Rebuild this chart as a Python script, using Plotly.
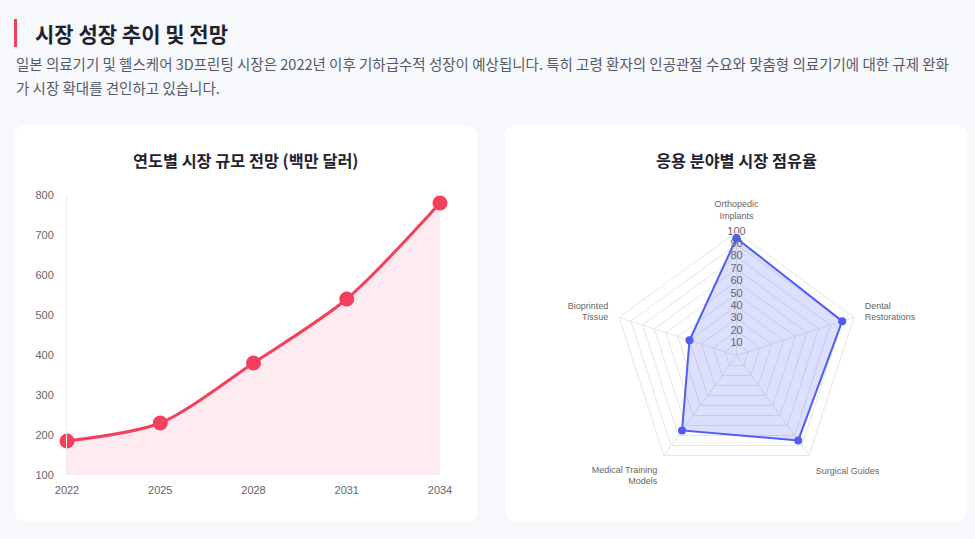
import plotly.graph_objects as go

# ---- data ----
years = [2022, 2025, 2028, 2031, 2034]
market_size = [185, 230, 380, 540, 780]
y_ticks = [100, 200, 300, 400, 500, 600, 700, 800]

segments = ["Orthopedic<br>Implants", "Dental<br>Restorations", "Surgical Guides",
            "Medical Training<br>Models", "Bioprinted<br>Tissue"]
shares = [95, 90, 85, 75, 40]
r_ticks = [10, 20, 30, 40, 50, 60, 70, 80, 90, 100]

W, H = 975, 539
def px(x):
    return x / W
def py(y):
    return 1 - y / H

KR = "Noto Sans CJK KR, Noto Sans, sans-serif"
TICK = "Liberation Sans, Arial, sans-serif"
ROSE = "#f43f5e"
BLUE = "#4f5df5"

fig = go.Figure()

fig.add_trace(go.Scatter(
    x=years, y=market_size, mode="lines+markers",
    line=dict(color=ROSE, width=3, shape="spline", smoothing=0.8),
    marker=dict(color=ROSE, size=15),
    fill="tozeroy", fillcolor="rgba(244,63,94,0.1)",
    cliponaxis=False, showlegend=False, hoverinfo="x+y",
))

sc = list(shares) + [shares[0]]
th = list(segments) + [segments[0]]
fig.add_trace(go.Scatterpolar(
    r=sc, theta=th, mode="lines+markers",
    line=dict(color=BLUE, width=2),
    marker=dict(color=BLUE, size=8),
    fill="toself", fillcolor="rgba(79,93,245,0.2)",
    showlegend=False,
))
# radial tick labels centred on the vertical spoke (Chart.js style)
fig.add_trace(go.Scatterpolar(
    r=r_ticks, theta=[segments[0]] * len(r_ticks), mode="text",
    text=[str(v) for v in r_ticks], textposition="middle center",
    textfont=dict(family=TICK, size=11, color="#666666"),
    showlegend=False, hoverinfo="skip", cliponaxis=False,
))

def rounded_rect(x0, y0, x1, y1, r):
    X0, X1 = px(x0), px(x1)
    Y0, Y1 = py(y0), py(y1)
    rx, ry = r / W, r / H
    return (f"M {X0+rx},{Y0} L {X1-rx},{Y0} Q {X1},{Y0} {X1},{Y0-ry} "
            f"L {X1},{Y1+ry} Q {X1},{Y1} {X1-rx},{Y1} L {X0+rx},{Y1} "
            f"Q {X0},{Y1} {X0},{Y1+ry} L {X0},{Y0-ry} Q {X0},{Y0} {X0+rx},{Y0} Z")

shapes = [
    dict(type="path", xref="paper", yref="paper", layer="below",
         path=rounded_rect(14, 125, 477, 522, 14),
         fillcolor="white", line=dict(width=0)),
    dict(type="path", xref="paper", yref="paper", layer="below",
         path=rounded_rect(505, 125, 967, 522, 14),
         fillcolor="white", line=dict(width=0)),
    dict(type="rect", xref="paper", yref="paper", layer="above",
         x0=px(14), x1=px(17), y0=py(19), y1=py(47),
         fillcolor=ROSE, line=dict(width=0)),
]

annotations = [
    dict(text="<b>시장 성장 추이 및 전망</b>", x=px(33), y=py(33), xref="paper", yref="paper",
         xanchor="left", yanchor="middle", showarrow=False,
         font=dict(family=KR, size=21, color="#1f2330")),
    dict(text="일본 의료기기 및 헬스케어 3D프린팅 시장은 2022년 이후 기하급수적 성장이 예상됩니다. 특히 고령 환자의 인공관절 수요와 맞춤형 의료기기에 대한 규제 완화",
         x=px(14), y=py(63), xref="paper", yref="paper",
         xanchor="left", yanchor="middle", showarrow=False,
         font=dict(family=KR, size=14.5, color="#555a66")),
    dict(text="가 시장 확대를 견인하고 있습니다.",
         x=px(14), y=py(87), xref="paper", yref="paper",
         xanchor="left", yanchor="middle", showarrow=False,
         font=dict(family=KR, size=14.5, color="#555a66")),
    dict(text="<b>연도별 시장 규모 전망 (백만 달러)</b>", x=px(246), y=py(160), xref="paper", yref="paper",
         xanchor="center", yanchor="middle", showarrow=False,
         font=dict(family=KR, size=16.3, color="#1f2330")),
    dict(text="<b>응용 분야별 시장 점유율</b>", x=px(736), y=py(160), xref="paper", yref="paper",
         xanchor="center", yanchor="middle", showarrow=False,
         font=dict(family=KR, size=16.3, color="#1f2330")),
]

fig.update_layout(
    width=W, height=H,
    margin=dict(l=0, r=0, t=0, b=0, pad=0, autoexpand=False),
    paper_bgcolor="#f7f8fb", plot_bgcolor="rgba(0,0,0,0)",
    shapes=shapes, annotations=annotations,
    xaxis=dict(domain=[px(67), px(440)], range=[2022, 2034], automargin=False,
               tickvals=years, ticktext=[str(y) for y in years],
               showgrid=False, zeroline=False, showline=False,
               ticks="", ticklen=0, ticklabelstandoff=7,
               tickfont=dict(family=TICK, size=11, color="#666666")),
    yaxis=dict(domain=[py(475), py(195)], range=[100, 800], automargin=False,
               tickvals=y_ticks, showgrid=False, zeroline=False,
               showline=True, linecolor="#ececec", linewidth=1,
               ticks="", ticklabelstandoff=10,
               tickfont=dict(family=TICK, size=11, color="#666666")),
    polar=dict(
        domain=dict(x=[px(613), px(860)], y=[py(479), py(232)]),
        bgcolor="rgba(0,0,0,0)",
        gridshape="linear",
        radialaxis=dict(range=[0, 100], tickvals=r_ticks, angle=90,
                        showticklabels=False,
                        showline=False, ticks="", gridcolor="#e6e6e6"),
        angularaxis=dict(direction="clockwise", rotation=90, gridcolor="#e6e6e6",
                         linecolor="#e6e6e6", ticks="outside", ticklen=9,
                         tickcolor="rgba(0,0,0,0)",
                         tickfont=dict(family=TICK, size=9, color="#666666")),
    ),
)

fig.write_html("out.html", config={"displayModeBar": False},
               post_script="document.body.style.margin='0';document.body.style.overflow='hidden';")
